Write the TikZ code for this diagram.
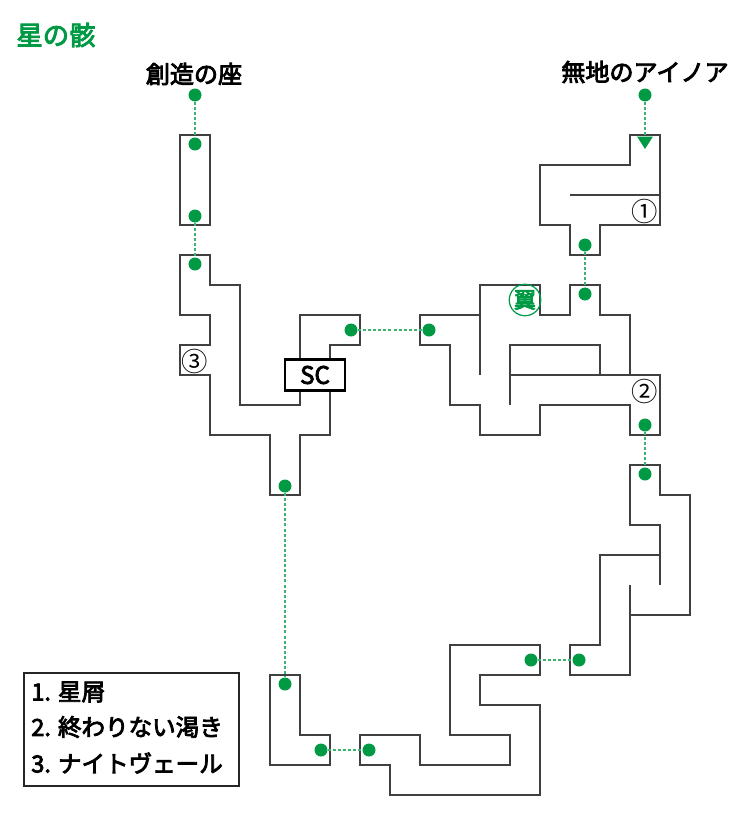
\documentclass[tikz,border=0pt]{standalone}
\usepackage{fontspec}
\setmainfont{Noto Sans CJK JP}
\newfontfamily\medfont{Noto Sans CJK JP}[FakeBold=3.5]
\usepackage{tikz}
\usetikzlibrary{arrows.meta}

\definecolor{stargreen}{HTML}{009944}
\definecolor{linkgreen}{HTML}{3CB371}
\definecolor{wallgray}{HTML}{404040}

\tikzset{
  room/.style={draw=wallgray, line width=1.15pt, line join=miter},
  spot/.style={circle, fill=stargreen, inner sep=0pt, minimum size=0.26cm},
  link/.style={draw=linkgreen, line width=1pt, dash pattern=on 1.7pt off 1.2pt},
  place/.style={font=\fontsize{13.7}{16}\selectfont\medfont},
  listitem/.style={anchor=west, inner sep=0pt, font=\fontsize{13.4}{16}\selectfont\medfont},
  circled/.style={font=\fontsize{15}{16}\selectfont, inner sep=0pt}
}

\begin{document}
\begin{tikzpicture}[x=0.02cm, y=-0.02cm]
  \useasboundingbox (0,0) rectangle (750,825);

  % rooms
  \draw[room] (180,135) rectangle (210,225);
  \draw[room] (180,255) -- (210,255) -- (210,285) -- (240,285) -- (240,405) -- (300,405) -- (300,315) -- (360,315) -- (360,345) -- (330,345) -- (330,435) -- (300,435) -- (300,495) -- (270,495) -- (270,435) -- (210,435) -- (210,375) -- (180,375) -- (180,345) -- (210,345) -- (210,315) -- (180,315) -- cycle;
  \draw[room] (630,135) -- (660,135) -- (660,225) -- (600,225) -- (600,255) -- (570,255) -- (570,225) -- (540,225) -- (540,165) -- (630,165) -- cycle;
  \draw[room] (570,195) -- (660,195);
  \draw[room] (480,375) -- (480,285) -- (540,285) -- (540,315) -- (570,315) -- (570,285) -- (600,285) -- (600,315) -- (630,315) -- (630,375) -- (660,375) -- (660,435) -- (630,435) -- (630,405) -- (540,405) -- (540,435) -- (480,435) -- (480,405) -- (450,405) -- (450,345) -- (420,345) -- (420,315) -- (480,315);
  \draw[room] (510,405) -- (510,345) -- (600,345) -- (600,375);
  \draw[room] (510,375) -- (630,375);
  \draw[room] (660,585) -- (660,525) -- (630,525) -- (630,465) -- (660,465) -- (660,495) -- (690,495) -- (690,615) -- (630,615);
  \draw[room] (630,585) -- (630,675) -- (570,675) -- (570,645) -- (600,645) -- (600,555) -- (660,555);
  \draw[room] (450,645) -- (540,645) -- (540,675) -- (480,675) -- (480,705) -- (540,705) -- (540,795) -- (390,795) -- (390,765) -- (360,765) -- (360,735) -- (420,735) -- (420,765) -- (510,765) -- (510,735) -- (450,735) -- cycle;
  \draw[room] (270,675) -- (300,675) -- (300,735) -- (330,735) -- (330,765) -- (270,765) -- cycle;

  % stops on the route
  \foreach \name/\x/\y in {seat/195/95, a/195/144, b/195/216, c/195/264, d/351/330, e/429/330, f/285/486, g/285/684, h/321/750, i/369/750, j/531/660, k/579/660, l/645/425, m/645/474, n/585/245, o/585/294, land/645/95}
  {
  \node[spot] (\name) at (\x, \y) {};
  }
  \coordinate (landend) at (645,149);

  \draw[link] (seat) -- (a);
  \draw[link] (b) -- (c);
  \draw[link] (d) -- (e);
  \draw[link] (f) -- (g);
  \draw[link] (h) -- (i);
  \draw[link] (j) -- (k);
  \draw[link] (l) -- (m);
  \draw[link] (n) -- (o);
  \draw[link, -{Triangle[length=0.25cm, width=0.31cm, color=stargreen, fill=stargreen]}] (land) -- (landend);

  \node[draw=black, fill=white, line width=1.6pt, minimum width=1.2cm, minimum height=0.62cm, inner sep=0pt, place] (sc) at (315,375) {SC};

  \node[circled] (one) at (645,211) {①};
  \node[circled] (two) at (645,391) {②};
  \node[circled] (three) at (195,361) {③};
  \node[circle, draw=stargreen, line width=0.7pt, text=stargreen, inner sep=0pt, minimum size=0.63cm, font=\fontsize{12.5}{13}\selectfont\medfont] (wing) at (525,300) {翼};

  \node[text=stargreen, font=\fontsize{15}{18}\selectfont\medfont] (title) at (56,35) {星の骸};
  \node[place] (start) at (194,74) {創造の座};
  \node[place] (goal) at (645,72) {無地のアイノア};

  \draw[draw=black!85, line width=1pt] (24,673) rectangle (239,786);
  \node[listitem] (lista) at (31,692) {1. 星屑};
  \node[listitem] (listb) at (31,727) {2. 終わりない渇き};
  \node[listitem] (listc) at (31,763) {3. ナイトヴェール};
\end{tikzpicture}
\end{document}
